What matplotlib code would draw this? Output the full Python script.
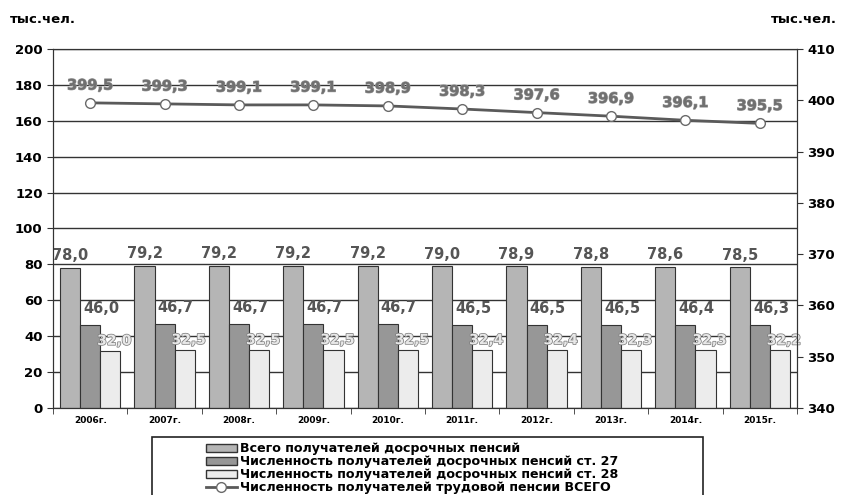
import matplotlib
matplotlib.use('Agg')
import matplotlib.pyplot as plt
import matplotlib.patheffects as pe
from matplotlib.patches import Rectangle
from matplotlib.lines import Line2D
import numpy as np

years = ['2006г.', '2007г.', '2008г.', '2009г.', '2010г.',
         '2011г.', '2012г.', '2013г.', '2014г.', '2015г.']
total_early = [78.0, 79.2, 79.2, 79.2, 79.2, 79.0, 78.9, 78.8, 78.6, 78.5]
art27 = [46.0, 46.7, 46.7, 46.7, 46.7, 46.5, 46.5, 46.5, 46.4, 46.3]
art28 = [32.0, 32.5, 32.5, 32.5, 32.5, 32.4, 32.4, 32.3, 32.3, 32.2]
labor_total = [399.5, 399.3, 399.1, 399.1, 398.9, 398.3, 397.6, 396.9, 396.1, 395.5]

names = ['Всего получателей досрочных пенсий',
         'Численность получателей досрочных пенсий ст. 27',
         'Численность получателей досрочных пенсий ст. 28',
         'Численность получателей трудовой пенсии ВСЕГО']

plt.rcParams['font.family'] = 'DejaVu Sans'
plt.rcParams['font.weight'] = 'bold'

def fmt(v):
    return ('%.1f' % v).replace('.', ',')

fig = plt.figure(figsize=(8.47, 4.95), dpi=100)
ax = fig.add_axes([0.0626, 0.1758, 0.8784, 0.7252])

x = np.arange(len(years))
w = 0.27
c1, c2, c3 = '#b5b5b5', '#979797', '#ececec'
ax.bar(x - w, total_early, w, color=c1, edgecolor='#333333', linewidth=0.8)
ax.bar(x, art27, w, color=c2, edgecolor='#333333', linewidth=0.8)
ax.bar(x + w, art28, w, color=c3, edgecolor='#333333', linewidth=0.8)

ax.set_xlim(-0.5, len(years) - 0.5)
ax.set_ylim(0, 200)
ax.set_yticks(range(0, 201, 20))
ax.set_axisbelow(True)
ax.yaxis.grid(True, color='#333333', linewidth=1)
ax.set_xticks(x)
ax.set_xticklabels(years, fontsize=6.5, fontweight='bold')
ax.set_xticks(np.arange(-0.5, len(years), 1), minor=True)
ax.tick_params(axis='x', which='major', length=0, pad=6)
ax.tick_params(axis='x', which='minor', length=4, direction='out', color='#333333')
ax.tick_params(axis='y', labelsize=9.5, length=4, color='#333333')
for lab in ax.get_yticklabels():
    lab.set_fontweight('bold')
for s in ['left', 'right', 'bottom', 'top']:
    ax.spines[s].set_color('#333333')

for i in range(len(years)):
    ax.text(x[i] - w, total_early[i] + 2.5, fmt(total_early[i]), ha='center', va='bottom',
            fontsize=10.5, fontweight='bold', color='#555555')
    ax.text(x[i] + w * 0.55, art27[i] + 5, fmt(art27[i]), ha='center', va='bottom',
            fontsize=10.5, fontweight='bold', color='#555555')
    ax.text(x[i] + w * 1.2, art28[i] + 1.5, fmt(art28[i]), ha='center', va='bottom',
            fontsize=10, fontweight='bold', color='#e8e8e8',
            path_effects=[pe.withStroke(linewidth=1.1, foreground='#808080')])

ax2 = ax.twinx()
ax2.plot(x, labor_total, color='#5a5a5a', linewidth=2, marker='o', markersize=7,
         markerfacecolor='white', markeredgecolor='#6a6a6a', markeredgewidth=1)
ax2.set_ylim(340, 410)
ax2.set_yticks(range(340, 411, 10))
ax2.tick_params(axis='y', labelsize=9.5, length=4, color='#333333')
for lab in ax2.get_yticklabels():
    lab.set_fontweight('bold')
for s in ['left', 'right', 'bottom', 'top']:
    ax2.spines[s].set_color('#333333')
for i in range(len(years)):
    ax2.text(x[i], labor_total[i] + 2.0, fmt(labor_total[i]), ha='center', va='bottom',
             fontsize=10.5, fontweight='bold', color='#707070',
             path_effects=[pe.withStroke(linewidth=0.8, foreground='#999999')])

fig.text(0.012, 0.96, 'тыс.чел.', fontsize=9.5, fontweight='bold', ha='left', va='center')
fig.text(0.988, 0.96, 'тыс.чел.', fontsize=9.5, fontweight='bold', ha='right', va='center')

# legend box, cut by the bottom edge like in the original
fig.patches.append(Rectangle((152 / 847, -0.05), (703 - 152) / 847, 0.05 + (495 - 437) / 495,
                             transform=fig.transFigure, fill=False, edgecolor='#222222',
                             linewidth=1.2))
handles = [Rectangle((0, 0), 1, 1, facecolor=c1, edgecolor='#333333'),
           Rectangle((0, 0), 1, 1, facecolor=c2, edgecolor='#333333'),
           Rectangle((0, 0), 1, 1, facecolor=c3, edgecolor='#333333'),
           Line2D([], [], color='#5a5a5a', linewidth=2, marker='o', markersize=7,
                  markerfacecolor='white', markeredgecolor='#6a6a6a')]
fig.legend(handles, names, loc='upper left', bbox_to_anchor=(200 / 847, 1 - 436 / 495),
           frameon=False, labelspacing=0, handlelength=2.4,
           handleheight=0.6, handletextpad=0.3, borderpad=0, prop={'weight': 'bold', 'size': 9.1})

fig.savefig('out.png', dpi=100)
